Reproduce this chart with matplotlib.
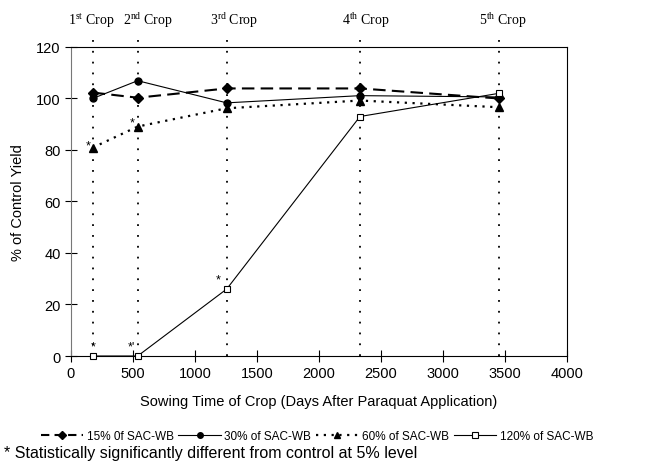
import matplotlib
matplotlib.use("Agg")
import matplotlib.pyplot as plt
from matplotlib.lines import Line2D

days = [175, 538, 1256, 2331, 3452]
crop_labels = [("1", "st"), ("2", "nd"), ("3", "rd"), ("4", "th"), ("5", "th")]
s15 = [102.3, 100.3, 103.9, 103.9, 100.0]
s30 = [100.0, 106.9, 98.3, 101.1, 100.6]
s60 = [80.9, 89.1, 96.2, 99.2, 96.6]
s120 = [0.0, 0.0, 26.0, 93.0, 102.0]
series_names = ["15% 0f SAC-WB", "30% of SAC-WB", "60% of SAC-WB", "120% of SAC-WB"]
# significance marks: (day, value, text)
sig_marks = [(175, 1.5, "*"), (490, 1.5, "*'"), (1190, 27.5, "*"), (135, 79.5, "*"), (490, 88.5, "*")]
xticks = [0, 500, 1000, 1500, 2000, 2500, 3000, 3500, 4000]
yticks = [0, 20, 40, 60, 80, 100, 120]

plt.rcParams['font.family'] = ['Liberation Sans', 'DejaVu Sans']
plt.rcParams['mathtext.fontset'] = 'custom'
plt.rcParams['mathtext.rm'] = 'Liberation Serif'
plt.rcParams['mathtext.it'] = 'Liberation Serif:italic'
plt.rcParams['mathtext.bf'] = 'Liberation Serif:bold'

fig = plt.figure(figsize=(6.47, 4.64), dpi=100)
ax = fig.add_axes([0.1097, 0.2306, 0.7665, 0.666])

ax.set_xlim(0, 4000)
ax.set_ylim(0, 120)

label_shift_px = [-1, 10, 7, 6, 4]
# vertical dotted lines for crops
for d, (n, suf), sh in zip(days, crop_labels, label_shift_px):
    ax.plot([d, d], [0, 126], color='black', lw=1.3, ls=(0, (1, 5)), clip_on=False, zorder=1)
    ax.annotate(r"$\mathrm{%s^{%s}\ Crop}$" % (n, suf), xy=(d, 129.0), xycoords='data',
                xytext=(sh, 0), textcoords='offset pixels',
                ha='center', va='baseline', fontsize=10, annotation_clip=False)

ax.plot(days, s15, color='black', lw=1.5, ls=(0, (6, 3)), marker='D', ms=5, clip_on=False, zorder=4)
ax.plot(days, s30, color='black', lw=0.8, ls='-', marker='o', ms=5, clip_on=False, zorder=4)
ax.plot(days, s60, color='black', lw=1.6, ls=(0, (1, 2.5)), marker='^', ms=6, clip_on=False, zorder=4)
ax.plot(days, s120, color='black', lw=0.8, ls='-', marker='s', ms=5, mfc='white', mew=0.8,
        clip_on=False, zorder=5)

for x, y, t in sig_marks:
    ax.text(x, y, t, ha='center', va='bottom', fontsize=9)

ax.set_xticks(xticks)
ax.set_yticks(yticks)
ax.tick_params(direction='inout', length=8, width=0.8, labelsize=10.5)
ax.set_xlabel("Sowing Time of Crop (Days After Paraquat Application)", fontsize=10.5, labelpad=10)
ax.set_ylabel("% of Control Yield", fontsize=10.5, labelpad=8)
for sp in ax.spines.values():
    sp.set_linewidth(0.8)
ax.spines['left'].set_color('#777777')

handles = [
    Line2D([], [], color='black', lw=1.5, ls=(0, (4, 2.5)), marker='D', ms=4),
    Line2D([], [], color='black', lw=0.8, marker='o', ms=4),
    Line2D([], [], color='black', lw=1.6, ls=(0, (1, 2.5)), marker='^', ms=4),
    Line2D([], [], color='black', lw=0.8, marker='s', ms=4, mfc='white', mew=0.8),
]
fig.legend(handles, series_names, loc='center', bbox_to_anchor=(0.49, 0.058), ncol=4,
           frameon=False, fontsize=8.5, handlelength=3.6, columnspacing=0.4, handletextpad=0.3,
           borderaxespad=0)
fig.text(0.006, 0.012, "* Statistically significantly different from control at 5% level", fontsize=11.5)

fig.savefig("out.png", dpi=100)
